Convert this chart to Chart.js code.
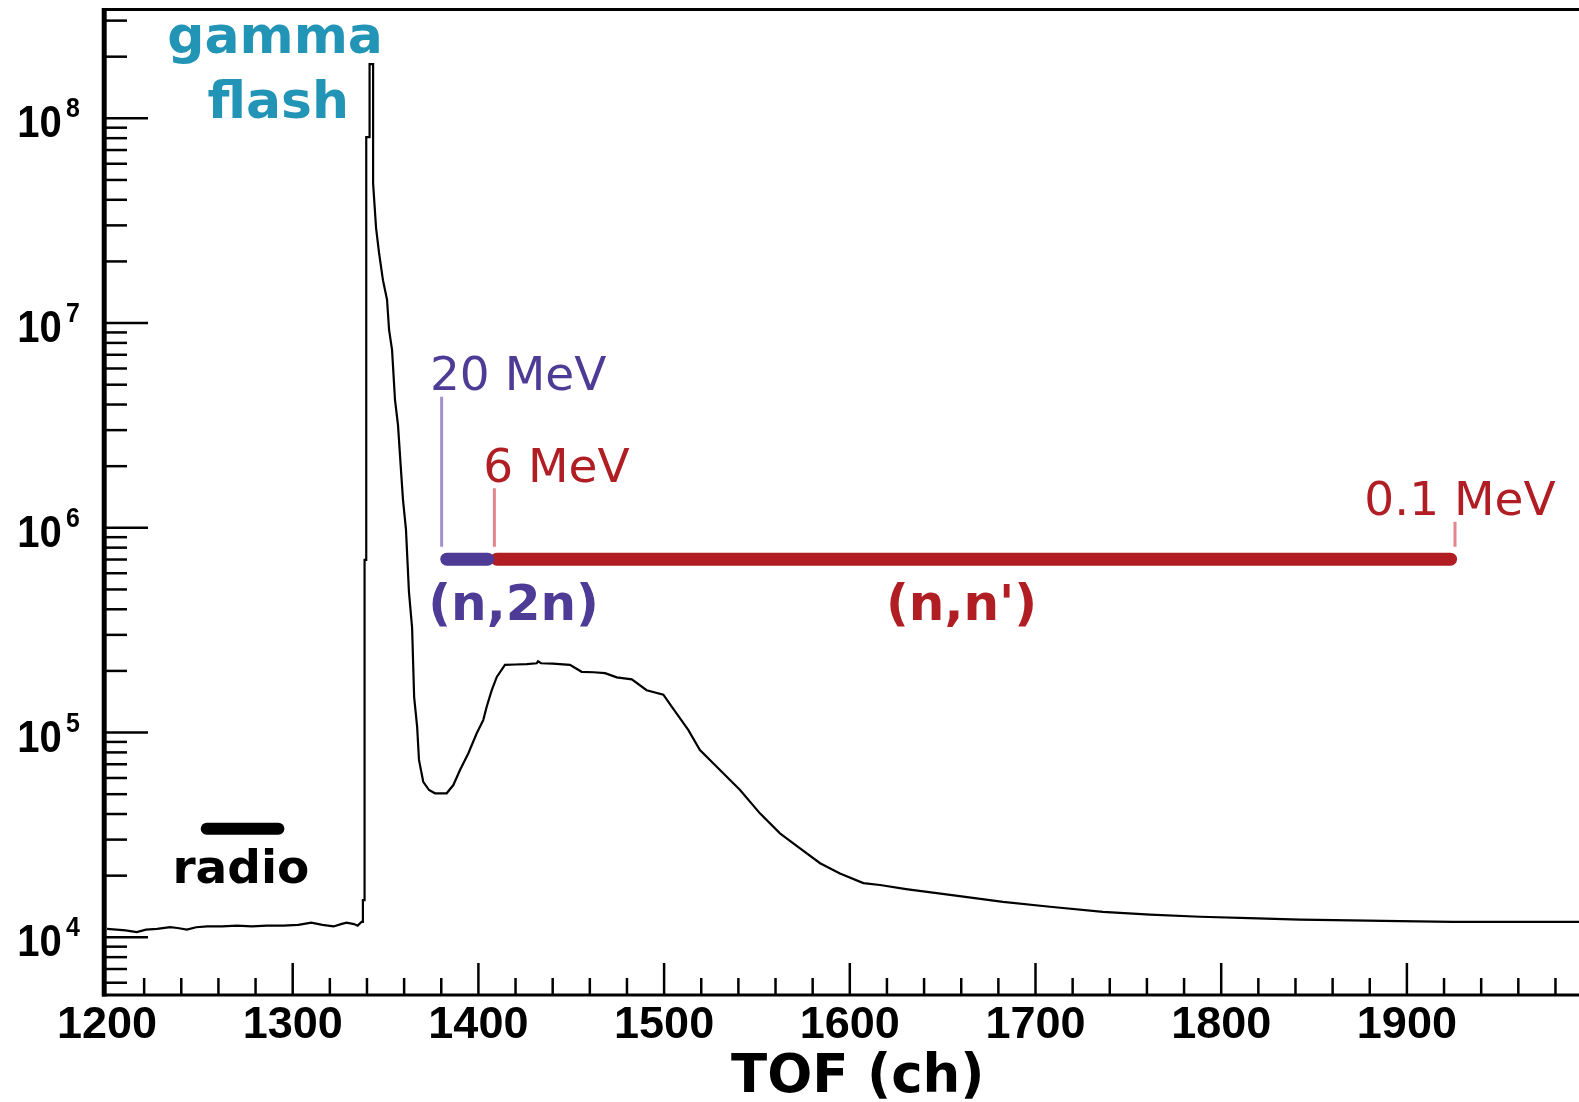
<!DOCTYPE html>
<html lang="en">
<head>
<meta charset="UTF-8" />
<title>TOF spectrum</title>
<script src="https://cdn.jsdelivr.net/npm/chart.js"></script>
<style>
  html, body { margin: 0; padding: 0; overflow: hidden; background: #fff; }
  #wrap { position: relative; width: 1600px; height: 1102px; }
</style>
</head>
<body>
<div id="wrap"><canvas id="tofChart" width="1600" height="1102"></canvas></div>
<script>
// time-of-flight spectrum (channel, counts)
const tofCh = [
  1200, 1205, 1210, 1216, 1221, 1227, 1234, 1238, 1243, 1248, 1254, 1262, 1270, 1278,
  1286, 1295, 1303, 1310, 1316, 1322, 1326, 1329, 1333, 1335, 1337.1, 1337.8,
  1337.8, 1338.7, 1338.7, 1339.6, 1339.6, 1341.4, 1341.4, 1343.3, 1343.3,
  1344.9, 1346.5, 1348.6, 1350.8, 1351.9, 1353.5, 1355.1, 1356.7, 1358.3, 1359.4,
  1361.0, 1362.6, 1364.3, 1365.4, 1367.0, 1368.0, 1370.3, 1373.4, 1376.6, 1382.9,
  1386.5, 1390.1, 1394.6, 1399.1, 1402.6, 1404.5, 1407.2, 1409.9, 1414.3, 1420,
  1426, 1431.4, 1432.1, 1433.7, 1440, 1449.3, 1455.6, 1462, 1468.2, 1474.5, 1482.6,
  1490.6, 1499.6, 1504.1, 1513.0, 1519.3, 1530.1, 1540.9, 1551.6, 1562.4, 1573.2,
  1584.0, 1594.7, 1607.3, 1616.3, 1630.3, 1654, 1682.5, 1707.8, 1736.3, 1761.7,
  1788.6, 1815, 1842.4, 1870, 1896.3, 1925, 1950, 1975, 1993
];
const counts = [
  1.10e4, 1.09e4, 1.08e4, 1.06e4, 1.09e4, 1.10e4, 1.12e4, 1.11e4, 1.09e4, 1.12e4, 1.13e4, 1.13e4, 1.14e4, 1.13e4,
  1.14e4, 1.14e4, 1.15e4, 1.18e4, 1.15e4, 1.13e4, 1.16e4, 1.18e4, 1.16e4, 1.14e4, 1.19e4, 1.19e4,
  1.52e4, 1.52e4, 6.97e5, 6.97e5, 8.1e7, 8.1e7, 1.84e8, 1.84e8, 4.8e7,
  2.91e7, 2.2e7, 1.62e7, 1.3e7, 9.25e6, 7.4e6, 4.2e6, 3.18e6, 1.92e6, 1.37e6,
  9.8e5, 4.86e5, 3.24e5, 1.49e5, 1.07e5, 7.35e4, 5.75e4, 5.24e4, 5.05e4, 5.05e4,
  5.54e4, 6.56e4, 7.92e4, 9.92e4, 1.15e5, 1.34e5, 1.61e5, 1.87e5, 2.14e5, 2.15e5,
  2.16e5, 2.18e5, 2.23e5, 2.18e5, 2.17e5, 2.14e5, 1.98e5, 1.97e5, 1.95e5, 1.86e5, 1.82e5,
  1.61e5, 1.53e5, 1.34e5, 1.03e5, 8.22e4, 6.56e4, 5.24e4, 4.03e4, 3.22e4, 2.72e4,
  2.30e4, 2.05e4, 1.84e4, 1.80e4, 1.72e4, 1.61e4, 1.49e4, 1.41e4, 1.33e4, 1.29e4,
  1.26e4, 1.24e4, 1.22e4, 1.21e4, 1.20e4, 1.19e4, 1.19e4, 1.19e4, 1.19e4
];

// neutron energy markers: label, channel, top of the marker line
const markerLabels = ['20 MeV', '6 MeV', '0.1 MeV'];
const markerCh = [1380.2, 1408.6, 1925.9];
const markerTop = [4.37e6, 1.56e6, 1.07e6];
const markerBase = 8.09e5;

// reaction windows: (n,2n) and (n,n'), plus the radio background window
const n2nRange = [1383, 1405];
const ninRange = [1410, 1923.5];
const windowLevel = 7.03e5;
const radioRange = [1253.7, 1292.3];
const radioLevel = 3.39e4;

const xTicks = [1200, 1300, 1400, 1500, 1600, 1700, 1800, 1900];
const yDecades = [4, 5, 6, 7, 8];

const PURPLE = '#4d3b96';
const RED = '#b01e24';
const TEAL = '#2294b5';

const seg = (xs, y) => xs.map(v => ({ x: v, y: y }));

const datasets = [
  {
    data: tofCh.map((c, i) => ({ x: c, y: counts[i] })),
    borderColor: '#000', borderWidth: 2.2, pointRadius: 0, tension: 0
  },
  ...markerCh.map((c, i) => ({
    data: [{ x: c, y: markerBase }, { x: c, y: markerTop[i] }],
    borderColor: i === 0 ? '#a291cd' : '#e0868c', borderWidth: 3, pointRadius: 0
  })),
  { data: seg(n2nRange, windowLevel), borderColor: PURPLE, borderWidth: 13, borderCapStyle: 'round', pointRadius: 0 },
  { data: seg(ninRange, windowLevel), borderColor: RED, borderWidth: 13, borderCapStyle: 'round', pointRadius: 0 },
  { data: seg(radioRange, radioLevel), borderColor: '#000', borderWidth: 12, borderCapStyle: 'round', pointRadius: 0 }
];

// text placed in data coordinates
const notes = [
  { text: 'gamma', x: 1290.5, y: 2.08e8, font: 'bold 52px "DejaVu Sans"', color: TEAL, align: 'center' },
  { text: 'flash', x: 1292.2, y: 1.0e8, font: 'bold 52px "DejaVu Sans"', color: TEAL, align: 'center' },
  { text: markerLabels[0], x: 1373.9, y: 4.71e6, font: '47px "DejaVu Sans"', color: PURPLE, align: 'left' },
  { text: markerLabels[1], x: 1402.6, y: 1.68e6, font: '47px "DejaVu Sans"', color: RED, align: 'left' },
  { text: markerLabels[2], x: 1928.6, y: 1.15e6, font: '47px "DejaVu Sans"', color: RED, align: 'center' },
  { text: '(n,2n)', x: 1373.0, y: 3.55e5, font: 'bold 50px "DejaVu Sans"', color: PURPLE, align: 'left' },
  { text: "(n,n')", x: 1619.5, y: 3.55e5, font: 'bold 50px "DejaVu Sans"', color: RED, align: 'left' },
  { text: 'radio', x: 1272.1, y: 1.84e4, font: 'bold 47px "DejaVu Sans"', color: '#000', align: 'center' }
];

function drawText(ctx, text, px, py, font, color, align, sx) {
  ctx.save();
  ctx.translate(px, py);
  ctx.scale(sx || 1, 1);
  ctx.font = font;
  ctx.fillStyle = color;
  ctx.textAlign = align;
  ctx.textBaseline = 'alphabetic';
  ctx.fillText(text, 0, 0);
  ctx.restore();
}

function seg2(ctx, x1, y1, x2, y2) {
  ctx.beginPath();
  ctx.moveTo(x1, y1);
  ctx.lineTo(x2, y2);
  ctx.stroke();
}

// frame with inward ticks, labels and annotations
const frame = {
  id: 'frame',
  afterDraw(chart) {
    const { ctx, chartArea: a, scales: { x, y } } = chart;
    ctx.save();
    ctx.strokeStyle = '#000';

    ctx.lineWidth = 3;
    seg2(ctx, a.left - 5, a.top, a.right, a.top);
    seg2(ctx, a.left - 5, a.bottom, a.right, a.bottom);
    ctx.lineWidth = 5;
    seg2(ctx, a.left - 2.8, a.top - 1.5, a.left - 2.8, a.bottom + 1.5);

    ctx.lineWidth = 2.5;
    for (let d = 3; d <= 8; d++) {
      for (let m = 1; m <= 9; m++) {
        const v = m * Math.pow(10, d);
        if (v < y.min || v > y.max) continue;
        const py = y.getPixelForValue(v);
        seg2(ctx, a.left - 1, py, a.left + (m === 1 ? 41 : 20), py);
      }
    }
    for (let v = 1200; v <= 2000; v += 20) {
      const px = x.getPixelForValue(v);
      if (v === 1200) continue;
      seg2(ctx, px, a.bottom, px, a.bottom - (v % 100 === 0 ? 32 : 17));
    }

    xTicks.forEach(v => {
      drawText(ctx, String(v), x.getPixelForValue(v), a.bottom + 43.3,
        'bold 45px "Liberation Sans"', '#000', 'center');
    });
    yDecades.forEach(d => {
      const py = y.getPixelForValue(Math.pow(10, d));
      drawText(ctx, '10', a.left - 45.3, py + 19, 'bold 45px "Liberation Sans"', '#000', 'right', 0.89);
      drawText(ctx, String(d), a.left - 41, py - 1, 'bold 28px "Liberation Sans"', '#000', 'left', 0.89);
    });

    drawText(ctx, 'TOF (ch)', (a.left + a.right) / 2 + 8, a.bottom + 96.7,
      'bold 53px "DejaVu Sans"', '#000', 'center');

    notes.forEach(n => {
      drawText(ctx, n.text, x.getPixelForValue(n.x), y.getPixelForValue(n.y), n.font, n.color, n.align);
    });
    ctx.restore();
  }
};

new Chart(document.getElementById('tofChart'), {
  type: 'line',
  data: { datasets: datasets },
  options: {
    responsive: false,
    animation: false,
    layout: { padding: { left: 107, right: 7.4, top: 9.5, bottom: 107 } },
    plugins: { legend: { display: false }, tooltip: { enabled: false } },
    scales: {
      x: { type: 'linear', min: 1200, max: 2000, display: false },
      y: { type: 'logarithmic', min: 5226, max: 3.40e8, display: false }
    }
  },
  plugins: [frame]
});
</script>
</body>
</html>
